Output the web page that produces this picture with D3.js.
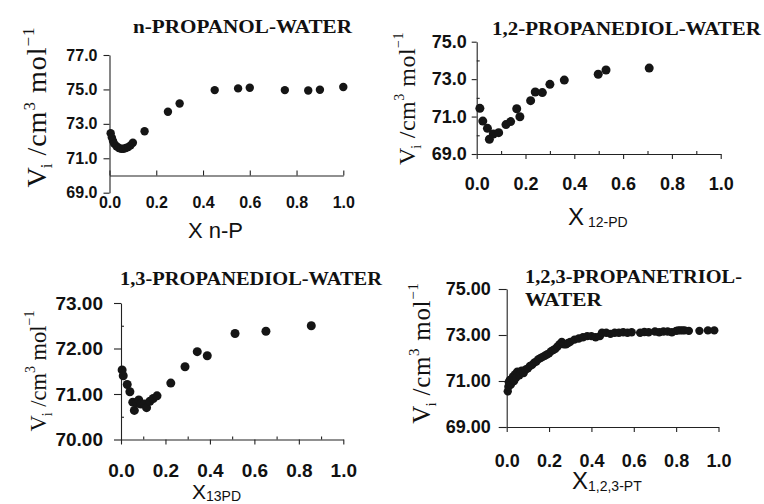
<!DOCTYPE html>
<head>
    <meta charset="utf-8">
    <title>Partial molar volume of water - propanols</title>
    <style>
        body { margin: 0; background: #fff; }
        .tick text { font-family: "Liberation Sans", Arial, sans-serif; font-weight: bold; fill: #111; }
        .domain, .tick line { stroke: #222; stroke-width: 1.1; }
        .title { font-family: "Liberation Serif", "Times New Roman", serif; font-weight: bold; fill: #111; }
        .ylab { font-family: "Liberation Serif", "Times New Roman", serif; fill: #111; }
        .xlab { font-family: "Liberation Sans", Arial, sans-serif; fill: #111; }
        .dot { fill: #151515; }
    </style>
</head>
<body>

<svg width="764" height="504"></svg>

<script src="https://d3js.org/d3.v7.min.js"></script>

<script>

// n-propanol - water
var npX = [0.005, 0.01, 0.015, 0.02, 0.03, 0.04, 0.05, 0.06, 0.07, 0.08, 0.09, 0.10,
           0.15, 0.25, 0.30, 0.45, 0.55, 0.60, 0.75, 0.85, 0.90, 1.00];
var npY = [72.45, 72.2, 72.0, 71.85, 71.7, 71.6, 71.55, 71.55, 71.6, 71.65, 71.75, 71.9,
           72.57, 73.7, 74.18, 74.96, 75.06, 75.1, 74.96, 74.94, 74.98, 75.14];

// 1,2-propanediol - water
var pd12X = [0.013, 0.025, 0.044, 0.052, 0.068, 0.09, 0.12, 0.139, 0.164, 0.177,
             0.221, 0.24, 0.269, 0.30, 0.359, 0.498, 0.53, 0.707];
var pd12Y = [71.44, 70.76, 70.37, 69.79, 70.07, 70.14, 70.57, 70.73, 71.42, 70.99,
             71.85, 72.31, 72.28, 72.72, 72.95, 73.26, 73.49, 73.59];

// 1,3-propanediol - water
var pd13X = [0.005, 0.01, 0.028, 0.04, 0.053, 0.06, 0.07, 0.08, 0.09, 0.105, 0.115,
             0.13, 0.145, 0.162, 0.224, 0.288, 0.343, 0.388, 0.513, 0.652, 0.856];
var pd13Y = [71.53, 71.4, 71.21, 71.05, 70.82, 70.64, 70.8, 70.87, 70.78, 70.78, 70.7,
             70.84, 70.9, 70.96, 71.24, 71.6, 71.93, 71.84, 72.33, 72.38, 72.5];

// 1,2,3-propanetriol - water
var ptX = [0.005, 0.008, 0.01, 0.015, 0.02, 0.025, 0.03, 0.035, 0.04, 0.045, 0.05, 0.06,
           0.065, 0.07, 0.08, 0.09, 0.10, 0.11, 0.12, 0.13, 0.14, 0.15, 0.16, 0.17, 0.18,
           0.19, 0.20, 0.21, 0.22, 0.23, 0.24, 0.25, 0.26, 0.27, 0.28, 0.29, 0.30, 0.32,
           0.34, 0.36, 0.38, 0.40, 0.42, 0.44, 0.45, 0.47, 0.49, 0.51, 0.53, 0.55, 0.57,
           0.59, 0.63, 0.65, 0.67, 0.70, 0.72, 0.74, 0.76, 0.78, 0.80, 0.81, 0.82, 0.83,
           0.84, 0.86, 0.91, 0.95, 0.98];
var ptY = [70.55, 70.75, 70.95, 71.05, 70.85, 71.1, 71.2, 71.0, 71.3, 71.15, 71.4, 71.25,
           71.35, 71.45, 71.35, 71.5, 71.55, 71.65, 71.7, 71.8, 71.85, 71.95, 72.0, 72.05, 72.1,
           72.15, 72.2, 72.3, 72.35, 72.4, 72.5, 72.6, 72.7, 72.6, 72.6, 72.65, 72.7, 72.8,
           72.85, 72.9, 72.95, 72.95, 72.9, 72.95, 73.1, 73.1, 73.05, 73.1, 73.1, 73.12, 73.1,
           73.12, 73.1, 73.13, 73.12, 73.15, 73.12, 73.15, 73.15, 73.12, 73.18, 73.2, 73.2, 73.2,
           73.2, 73.18, 73.18, 73.2, 73.2];

var xMajor = [0, 0.2, 0.4, 0.6, 0.8, 1.0];
var xMinor = [0.1, 0.3, 0.5, 0.7, 0.9];

var svg = d3.select('svg');

var panels = [
    { xs: npX, ys: npY, dom: [69, 77], xr: [109.5, 343.3], yr: [192.7, 55], xAxisAt: 70,
      yTicks: [69, 71, 73, 75, 77], yMinor: [], yFmt: '.1f', fs: 16, xMinor: [],
      yTick: 6, yPad: 6, xTick: -5, xLabY: 32.5, r: 4.2,
      title: ['n-PROPANOL-WATER'], tx: 133, ty: [33], tlen: [219],
      ylab: { x: 46, y: 107, fs: 28, ls: 1 },
      xlab: { x: 188, y: 238, main: 'X n-P', sub: '', fs: 22 } },
    { xs: pd12X, ys: pd12Y, dom: [69, 75], xr: [476.7, 720.7], yr: [154, 41.7], xAxisAt: 69,
      yTicks: [69, 71, 73, 75], yMinor: [70, 72, 74], yFmt: '.1f', fs: 18, xMinor: xMinor,
      yTick: 5, yPad: 5, xTick: 5, xLabY: 36, r: 4.5,
      title: ['1,2-PROPANEDIOL-WATER'], tx: 492, ty: [35], tlen: [269],
      ylab: { x: 415, y: 98.5, fs: 24, ls: 0.5 },
      xlab: { x: 568, y: 225, main: 'X', sub: ' 12-PD', fs: 24 } },
    { xs: pd13X, ys: pd13Y, dom: [70, 73], xr: [121, 343.3], yr: [439.5, 303], xAxisAt: 70,
      yTicks: [70, 71, 72, 73], yMinor: [70.5, 71.5, 72.5], yFmt: '.2f', fs: 19, xMinor: xMinor,
      yTick: 7, yPad: 11, xTick: 5, xLabY: 37.5, r: 4.5,
      title: ['1,3-PROPANEDIOL-WATER'], tx: 120, ty: [285], tlen: [262],
      ylab: { x: 46, y: 371, fs: 22.5, ls: 0 },
      xlab: { x: 192, y: 499, main: 'X', sub: '13PD', fs: 21 } },
    { xs: ptX, ys: ptY, dom: [69, 75], xr: [506.7, 718.5], yr: [427, 289], xAxisAt: 69,
      yTicks: [69, 71, 73, 75], yMinor: [], yFmt: '.2f', fs: 18, xMinor: [],
      yTick: 8, yPad: 8, xTick: 5, xLabY: 40, r: 4.2,
      title: ['1,2,3-PROPANETRIOL-', 'WATER'], tx: 525, ty: [283, 306], tlen: [217, 77],
      ylab: { x: 430, y: 353, fs: 25, ls: 0.7 },
      xlab: { x: 572, y: 489, main: 'X', sub: '1,2,3-PT', fs: 24 } }
];

panels.forEach(function(p) {
    var x = d3.scaleLinear().domain([0, 1]).range(p.xr);
    var y = d3.scaleLinear().domain(p.dom).range(p.yr);
    var g = svg.append('g');

    // y axis
    var yAx = g.append('g')
        .attr('transform', 'translate(' + p.xr[0] + ',0)')
        .call(d3.axisLeft(y).tickValues(p.yTicks).tickFormat(d3.format(p.yFmt))
            .tickSize(p.yTick).tickSizeOuter(0).tickPadding(p.yPad));
    yAx.selectAll('text').style('font-size', p.fs + 'px');
    if (p.yMinor.length) {
        g.append('g')
            .attr('transform', 'translate(' + p.xr[0] + ',0)')
            .call(d3.axisRight(y).tickValues(p.yMinor).tickFormat('').tickSize(3).tickSizeOuter(0))
            .select('.domain').remove();
    }

    // x axis
    var xAx = g.append('g')
        .attr('transform', 'translate(0,' + y(p.xAxisAt) + ')')
        .call(d3.axisBottom(x).tickValues(xMajor).tickFormat(d3.format('.1f'))
            .tickSize(p.xTick).tickSizeOuter(0));
    xAx.selectAll('text')
        .style('font-size', p.fs + 'px')
        .attr('y', p.xLabY).attr('dy', 0);
    if (p.xMinor.length) {
        g.append('g')
            .attr('transform', 'translate(0,' + y(p.xAxisAt) + ')')
            .call(d3.axisBottom(x).tickValues(p.xMinor).tickFormat('').tickSize(-3).tickSizeOuter(0))
            .select('.domain').remove();
    }

    // points
    g.selectAll('.dot')
        .data(p.xs.map((d, i) => [d, p.ys[i]]))
        .enter().append('circle')
            .attr('class', 'dot')
            .attr('cx', d => x(d[0]))
            .attr('cy', d => y(d[1]))
            .attr('r', p.r);

    // title
    p.title.forEach(function(t, i) {
        g.append('text')
            .attr('class', 'title')
            .attr('x', p.tx).attr('y', p.ty[i])
            .attr('textLength', p.tlen[i]).attr('lengthAdjust', 'spacingAndGlyphs')
            .style('font-size', '19px')
            .text(t);
    });

    // y label (V_i / cm^3 mol^-1)
    var yl = g.append('text')
        .attr('class', 'ylab')
        .attr('transform', 'translate(' + p.ylab.x + ',' + p.ylab.y + ') rotate(-90)')
        .attr('text-anchor', 'middle')
        .style('font-size', p.ylab.fs + 'px')
        .style('letter-spacing', p.ylab.ls + 'px');
    var small = Math.round(p.ylab.fs * 0.6) + 'px';
    yl.append('tspan').style('letter-spacing', '-1px').text('V');
    yl.append('tspan').attr('dy', 6).style('font-size', small).style('letter-spacing', '0px').text('i');
    yl.append('tspan').attr('dy', -6).text(' /cm');
    yl.append('tspan').attr('dy', -11).style('font-size', small).text('3');
    yl.append('tspan').attr('dy', 11).text(' mol');
    yl.append('tspan').attr('dy', -12).style('font-size', small).text('\u22121');

    // x label
    var xl = g.append('text')
        .attr('class', 'xlab')
        .attr('x', p.xlab.x).attr('y', p.xlab.y)
        .style('font-size', p.xlab.fs + 'px')
        .text(p.xlab.main);
    if (p.xlab.sub) {
        xl.append('tspan').attr('dy', 2).style('font-size', '14px').text(p.xlab.sub);
    }
});

</script>

</body>
